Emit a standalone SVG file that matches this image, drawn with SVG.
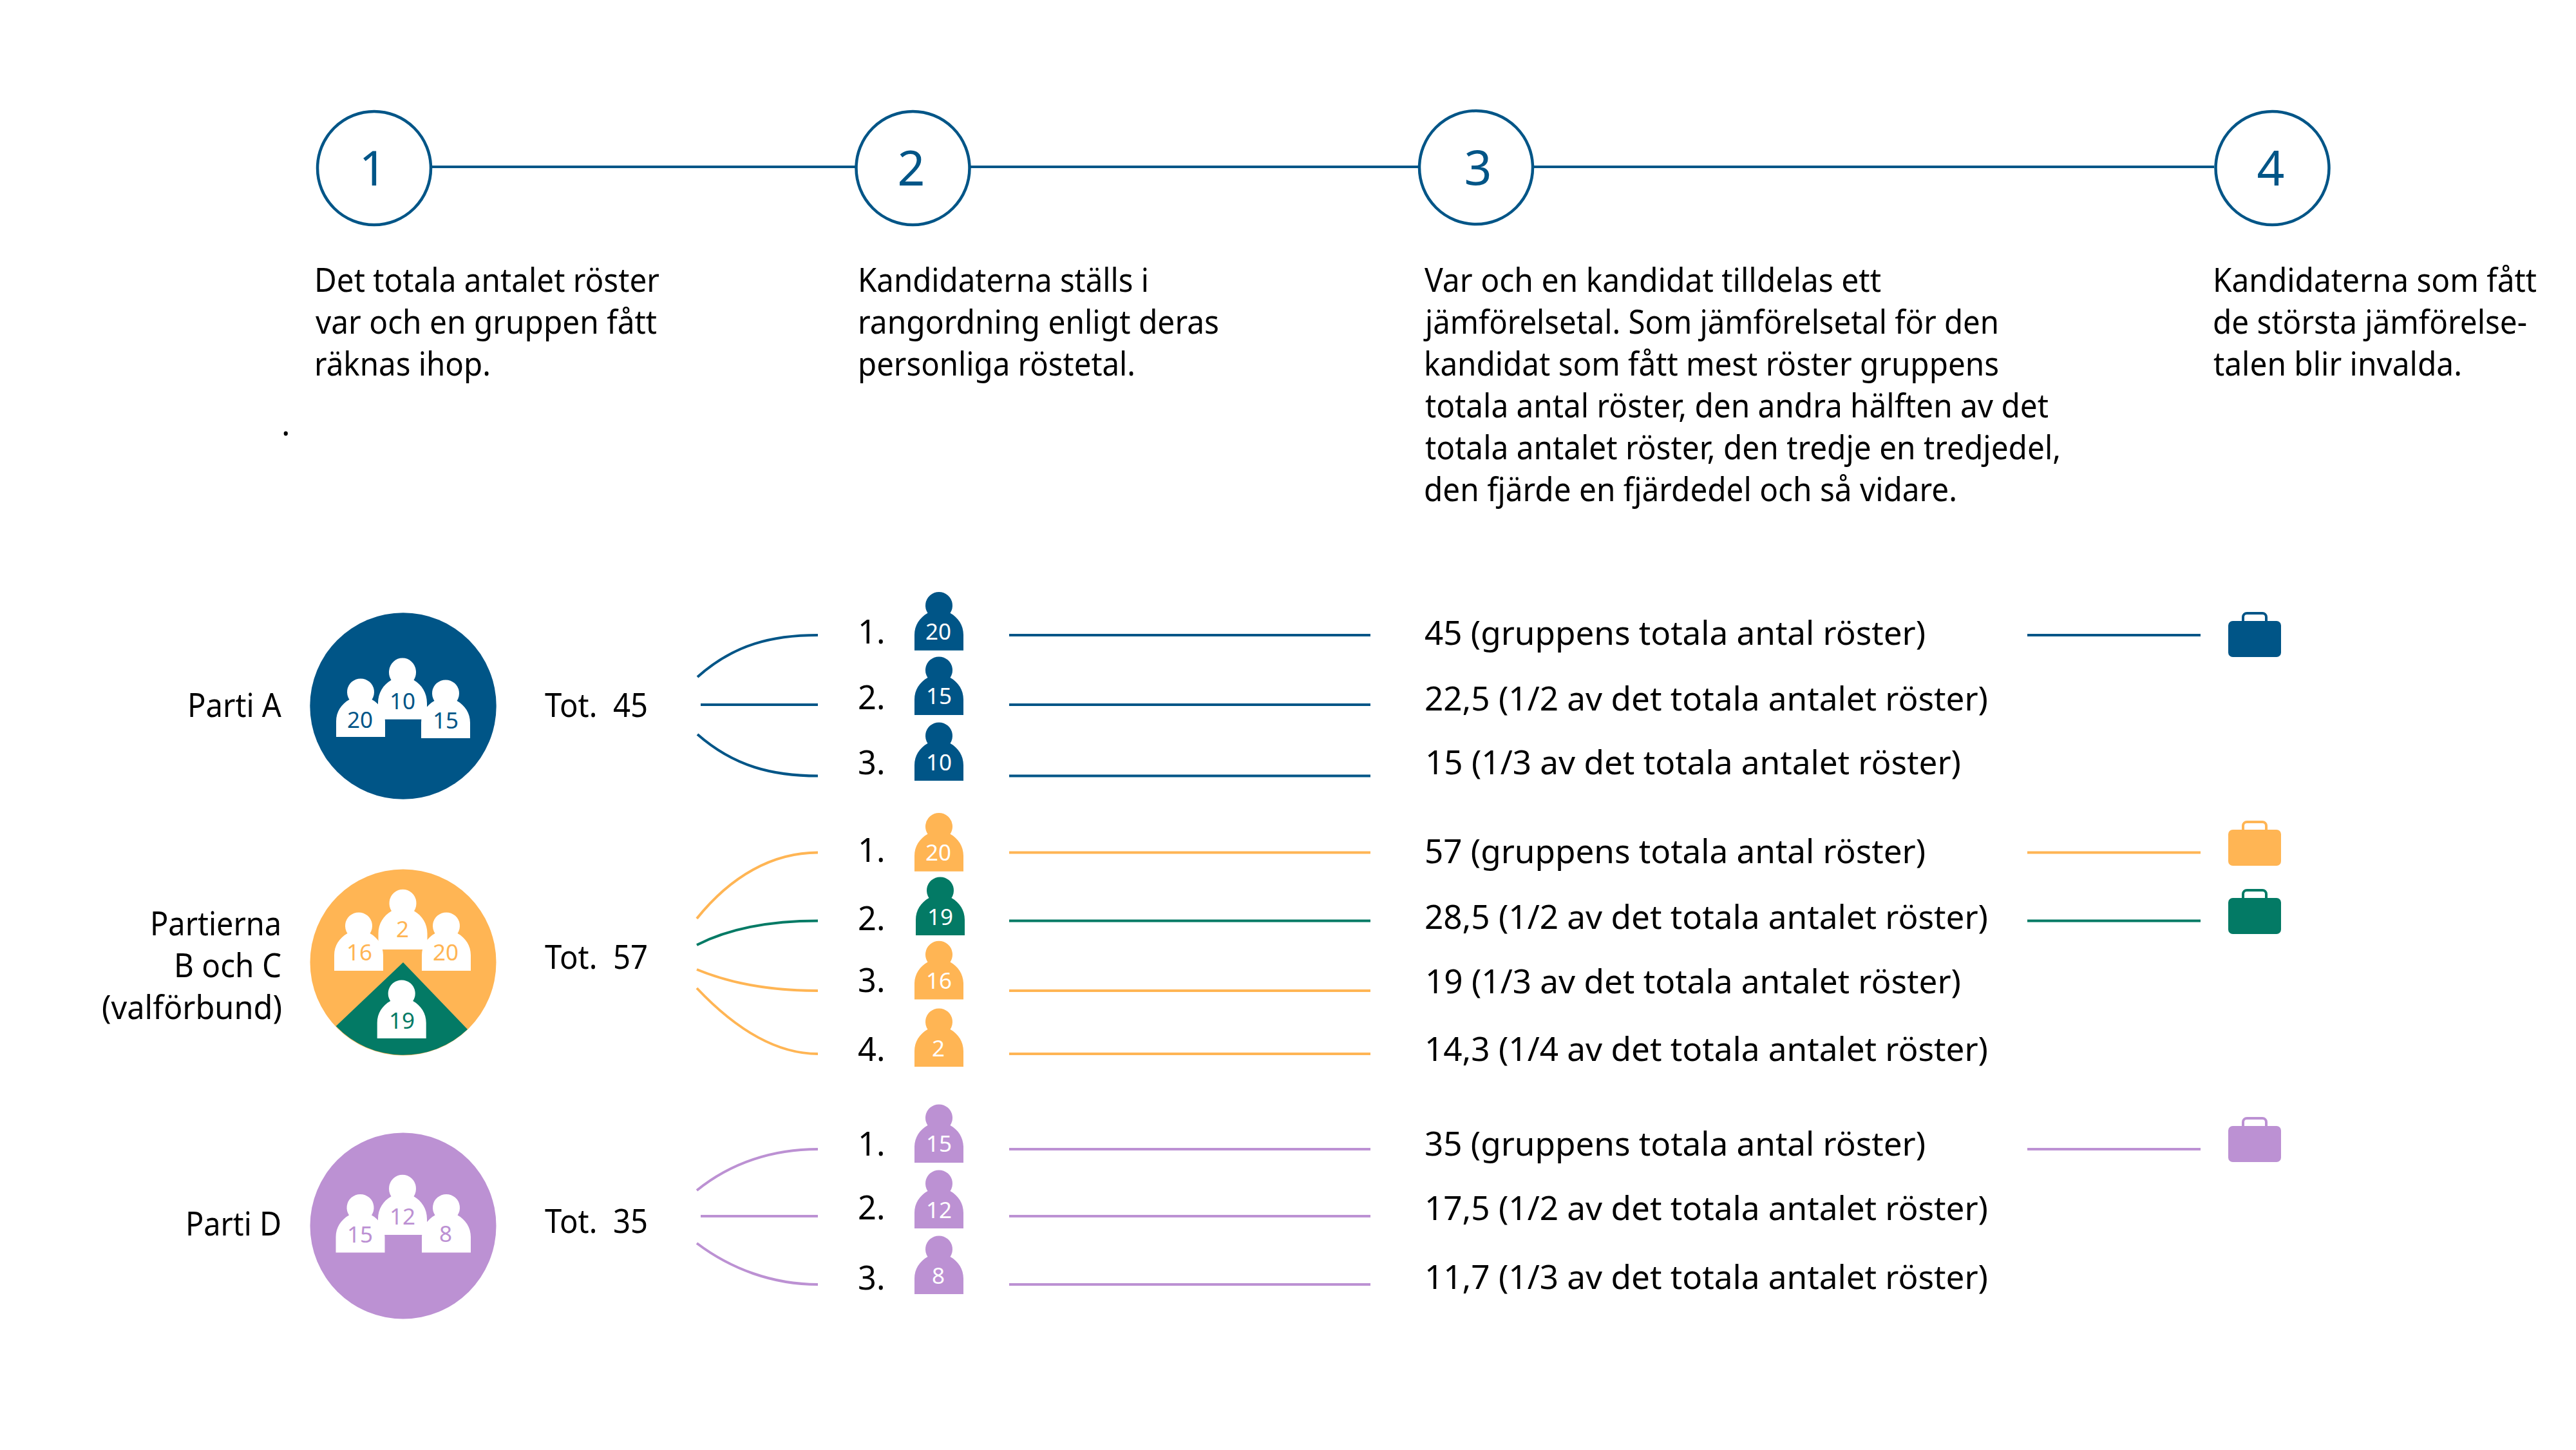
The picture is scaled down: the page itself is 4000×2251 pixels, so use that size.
<svg xmlns="http://www.w3.org/2000/svg" width="4000" height="2251" viewBox="0 0 4000 2251">
<style>
text{font-family:"Noto Sans","Open Sans","Liberation Sans",sans-serif;font-size:50.5px;fill:#000}
.step{font-size:75px;fill:#005587;text-anchor:middle}
.n{font-size:35px;text-anchor:middle}
.w{fill:#fff}
.lb{fill:#005587}.lo{fill:#FFB554}.lg{fill:#037A65}.lp{fill:#BC91D3}
.b{fill:#005587;color:#005587}.o{fill:#FFB554;color:#FFB554}.g{fill:#037A65;color:#037A65}.p{fill:#BC91D3;color:#BC91D3}
.c{fill:none;stroke-width:4}
.sb{stroke:#005587}.so{stroke:#FFB554}.sg{stroke:#037A65}.sp{stroke:#BC91D3}
.ring{fill:#fff;stroke:#005587;stroke-width:4.5}
</style>
<defs>
<path id="person" d="M-38,0V-24C-38,-39 -30,-51 -17.5,-58A21,21 0 1 1 17.5,-58C30,-51 38,-39 38,-24V0Z"/>
<g id="case"><rect x="0" y="0" width="82" height="56" rx="7" fill="currentColor"/><path d="M23,1V-6a6,6 0 0 1 6,-6H53a6,6 0 0 1 6,6V1" fill="none" stroke="currentColor" stroke-width="4"/></g>
</defs>
<rect width="4000" height="2251" fill="#fff"/>
<g id="connectors">
<path class="c sb" d="M671,259H1328M1507,259H2203M2382,259H3438"/>
<path class="c sb" d="M1083,1051C1140,1000 1200,986 1270,986"/>
<path class="c sb" d="M1088,1094H1270"/>
<path class="c sb" d="M1083,1140C1140,1190 1200,1204.5 1270,1204.5"/>
<path class="c so" d="M1082,1426C1135,1360 1200,1323.5 1270,1323.5"/>
<path class="c sg" d="M1082,1467C1135,1440 1200,1429.6 1270,1429.6"/>
<path class="c so" d="M1082,1505C1135,1527 1200,1538 1270,1538"/>
<path class="c so" d="M1082,1534C1135,1590 1200,1636 1270,1636"/>
<path class="c sp" d="M1082,1848C1135,1805 1200,1784 1270,1784"/>
<path class="c sp" d="M1088,1888H1270"/>
<path class="c sp" d="M1082,1930C1135,1970 1200,1994 1270,1994"/>
<path class="c sb" d="M1567,986H2128M1567,1094H2128M1567,1204.5H2128"/>
<path class="c so" d="M1567,1323.5H2128"/>
<path class="c sg" d="M1567,1429.5H2128"/>
<path class="c so" d="M1567,1538H2128M1567,1636H2128"/>
<path class="c sp" d="M1567,1784H2128M1567,1888H2128M1567,1994H2128"/>
<path class="c sb" d="M3148,986H3417"/>
<path class="c so" d="M3148,1323.5H3417"/>
<path class="c sg" d="M3148,1429.5H3417"/>
<path class="c sp" d="M3148,1784H3417"/>
</g>
<g id="step-1"><circle class="ring" cx="581" cy="261" r="88"/><text class="step" x="579" y="288">1</text>
<text x="488" y="453" textLength="536" lengthAdjust="spacingAndGlyphs">Det totala antalet röster</text>
<text x="490" y="518" textLength="530" lengthAdjust="spacingAndGlyphs">var och en gruppen fått</text>
<text x="488" y="583" textLength="274" lengthAdjust="spacingAndGlyphs">räknas ihop.</text>
<text x="437" y="676">.</text></g>
<g id="step-2"><circle class="ring" cx="1417.5" cy="261" r="88"/><text class="step" x="1415" y="288">2</text>
<text x="1332" y="453" textLength="452" lengthAdjust="spacingAndGlyphs">Kandidaterna ställs i</text>
<text x="1332" y="518" textLength="561" lengthAdjust="spacingAndGlyphs">rangordning enligt deras</text>
<text x="1332" y="583" textLength="431" lengthAdjust="spacingAndGlyphs">personliga röstetal.</text></g>
<g id="step-3"><circle class="ring" cx="2292" cy="260" r="88"/><text class="step" x="2295" y="287">3</text>
<text x="2212" y="453" textLength="709" lengthAdjust="spacingAndGlyphs">Var och en kandidat tilldelas ett</text>
<text x="2213" y="518" textLength="891" lengthAdjust="spacingAndGlyphs">jämförelsetal. Som jämförelsetal för den</text>
<text x="2211" y="583" textLength="893" lengthAdjust="spacingAndGlyphs">kandidat som fått mest röster gruppens</text>
<text x="2213" y="648" textLength="968" lengthAdjust="spacingAndGlyphs">totala antal röster, den andra hälften av det</text>
<text x="2213" y="713" textLength="987" lengthAdjust="spacingAndGlyphs">totala antalet röster, den tredje en tredjedel,</text>
<text x="2211" y="778" textLength="828" lengthAdjust="spacingAndGlyphs">den fjärde en fjärdedel och så vidare.</text></g>
<g id="step-4"><circle class="ring" cx="3528.5" cy="261" r="88"/><text class="step" x="3526" y="288">4</text>
<text x="3436" y="453" textLength="503" lengthAdjust="spacingAndGlyphs">Kandidaterna som fått</text>
<text x="3436" y="518" textLength="488" lengthAdjust="spacingAndGlyphs">de största jämförelse-</text>
<text x="3437" y="583" textLength="386" lengthAdjust="spacingAndGlyphs">talen blir invalda.</text></g>
<g id="group-a">
<text x="291" y="1113" textLength="146" lengthAdjust="spacingAndGlyphs">Parti A</text>
<circle class="b" cx="626" cy="1096" r="144.7"/>
<use href="#person" class="w" x="560" y="1144"/><use href="#person" class="w" x="692" y="1146"/>
<use href="#person" class="w" transform="translate(625,1116.7) scale(1,1.05)"/>
<text class="n lb" x="559" y="1130">20</text><text class="n lb" x="625" y="1101">10</text><text class="n lb" x="692" y="1131">15</text>
<text x="846" y="1113" xml:space="preserve" textLength="160" lengthAdjust="spacingAndGlyphs">Tot.  45</text>
</g>
<g id="group-bc">
<text x="233" y="1452" textLength="204" lengthAdjust="spacingAndGlyphs">Partierna</text><text x="270" y="1517" textLength="167" lengthAdjust="spacingAndGlyphs">B och C</text><text x="158" y="1582" textLength="280" lengthAdjust="spacingAndGlyphs">(valförbund)</text>
<circle class="o" cx="626" cy="1494" r="144.5"/>
<path class="g" d="M626,1494L521.7,1593A144.5,144.5 0 0 0 726,1598Z"/>
<use href="#person" class="w" x="557" y="1507"/><use href="#person" class="w" x="693" y="1507"/>
<use href="#person" class="w" transform="translate(625.5,1474) scale(1,1.03)"/>
<use href="#person" class="w" x="623.7" y="1612"/>
<text class="n lo" x="558" y="1491">16</text><text class="n lo" x="625" y="1455">2</text><text class="n lo" x="692" y="1491">20</text><text class="n lg" x="624" y="1597">19</text>
<text x="846" y="1504" xml:space="preserve" textLength="160" lengthAdjust="spacingAndGlyphs">Tot.  57</text>
</g>
<g id="group-d">
<text x="288" y="1918" textLength="149" lengthAdjust="spacingAndGlyphs">Parti D</text>
<circle class="p" cx="626" cy="1903" r="144.5"/>
<use href="#person" class="w" x="559.5" y="1944.5"/><use href="#person" class="w" x="693" y="1944.5"/>
<use href="#person" class="w" transform="translate(625,1917) scale(1,1.03)"/>
<text class="n lp" x="559" y="1929">15</text><text class="n lp" x="625" y="1901">12</text><text class="n lp" x="692" y="1928">8</text>
<text x="846" y="1914" xml:space="preserve" textLength="160" lengthAdjust="spacingAndGlyphs">Tot.  35</text>
</g>
<g id="rank-a">
<text x="1332" y="999">1.</text><use href="#person" class="b" x="1458" y="1009.7"/><text class="n w" x="1457" y="993">20</text>
<text x="1332" y="1101">2.</text><use href="#person" class="b" x="1458" y="1110"/><text class="n w" x="1458" y="1093">15</text>
<text x="1332" y="1202">3.</text><use href="#person" class="b" x="1458" y="1212"/><text class="n w" x="1458" y="1196">10</text>
</g>
<g id="rank-bc">
<text x="1332" y="1338">1.</text><use href="#person" class="o" x="1458" y="1352.7"/><text class="n w" x="1457" y="1336">20</text>
<text x="1332" y="1444">2.</text><use href="#person" class="g" x="1460" y="1452"/><text class="n w" x="1460" y="1436">19</text>
<text x="1332" y="1540">3.</text><use href="#person" class="o" x="1458" y="1551.4"/><text class="n w" x="1458" y="1535">16</text>
<text x="1332" y="1647">4.</text><use href="#person" class="o" x="1458" y="1656"/><text class="n w" x="1457" y="1640">2</text>
</g>
<g id="rank-d">
<text x="1332" y="1794">1.</text><use href="#person" class="p" x="1458" y="1805"/><text class="n w" x="1458" y="1788">15</text>
<text x="1332" y="1893">2.</text><use href="#person" class="p" x="1458" y="1907"/><text class="n w" x="1458" y="1891">12</text>
<text x="1332" y="2002">3.</text><use href="#person" class="p" x="1458" y="2009"/><text class="n w" x="1457" y="1993">8</text>
</g>
<g id="values">
<text x="2212" y="1001" textLength="778" lengthAdjust="spacingAndGlyphs">45 (gruppens totala antal röster)</text>
<text x="2212" y="1103" textLength="875" lengthAdjust="spacingAndGlyphs">22,5 (1/2 av det totala antalet röster)</text>
<text x="2213" y="1202" textLength="832" lengthAdjust="spacingAndGlyphs">15 (1/3 av det totala antalet röster)</text>
<text x="2212" y="1340" textLength="778" lengthAdjust="spacingAndGlyphs">57 (gruppens totala antal röster)</text>
<text x="2212" y="1442" textLength="875" lengthAdjust="spacingAndGlyphs">28,5 (1/2 av det totala antalet röster)</text>
<text x="2213" y="1542" textLength="832" lengthAdjust="spacingAndGlyphs">19 (1/3 av det totala antalet röster)</text>
<text x="2212" y="1647" textLength="875" lengthAdjust="spacingAndGlyphs">14,3 (1/4 av det totala antalet röster)</text>
<text x="2212" y="1794" textLength="778" lengthAdjust="spacingAndGlyphs">35 (gruppens totala antal röster)</text>
<text x="2212" y="1894" textLength="875" lengthAdjust="spacingAndGlyphs">17,5 (1/2 av det totala antalet röster)</text>
<text x="2212" y="2001" textLength="875" lengthAdjust="spacingAndGlyphs">11,7 (1/3 av det totala antalet röster)</text>
</g>
<g id="seat-a"><use href="#case" class="b" x="3460" y="964"/></g>
<g id="seat-b"><use href="#case" class="o" x="3460" y="1288"/></g>
<g id="seat-c"><use href="#case" class="g" x="3460" y="1394"/></g>
<g id="seat-d"><use href="#case" class="p" x="3460" y="1748"/></g>
</svg>
